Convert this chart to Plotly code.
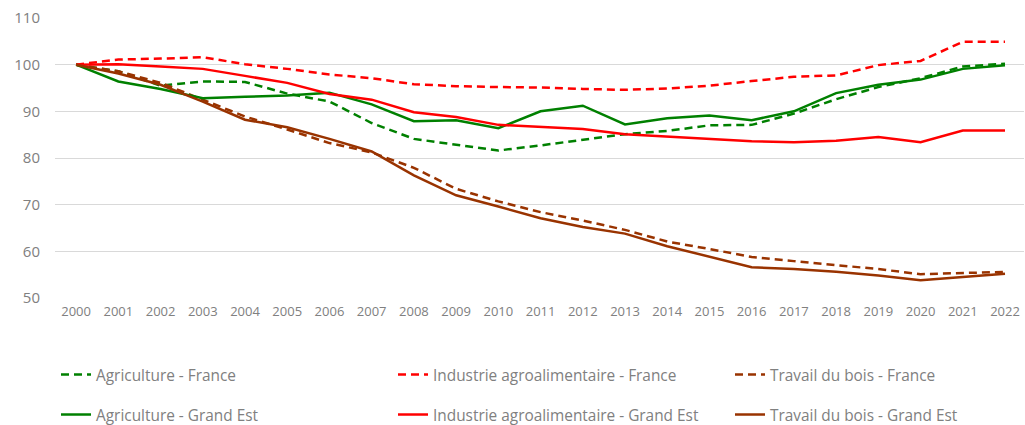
import plotly.graph_objects as go

years = list(range(2000, 2023))

agri_france = [100, 98.6, 95.5, 96.4, 96.3, 93.8, 92.1, 87.5, 84.1, 82.9, 81.6, 82.7, 83.9, 85.1, 85.8,
               87.0, 87.1, 89.5, 92.6, 95.2, 97.1, 99.6, 100.2]
iaa_france = [100, 101.1, 101.3, 101.6, 100.1, 99.1, 97.9, 97.1, 95.8, 95.4, 95.2, 95.1, 94.8, 94.6, 94.9,
              95.5, 96.5, 97.4, 97.7, 99.9, 100.8, 104.9, 104.9]
bois_france = [100, 98.6, 96.1, 92.5, 88.9, 86.1, 83.2, 81.2, 77.9, 73.4, 70.7, 68.4, 66.6, 64.6, 62.1,
               60.5, 58.8, 57.9, 57.0, 56.2, 55.1, 55.4, 55.6]
agri_ge = [100, 96.4, 94.8, 92.8, 93.1, 93.4, 94.0, 91.5, 87.9, 88.1, 86.4, 90.0, 91.2, 87.2, 88.5,
           89.1, 88.1, 90.0, 93.9, 95.7, 96.8, 99.1, 99.9]
iaa_ge = [100, 100.1, 99.6, 99.1, 97.6, 96.1, 93.7, 92.5, 89.8, 88.8, 87.1, 86.6, 86.2, 85.1, 84.6,
          84.2, 83.6, 83.4, 83.7, 84.5, 83.4, 85.9, 85.9]
bois_ge = [100, 98.1, 95.7, 92.1, 88.2, 86.6, 84.1, 81.4, 76.3, 72.0, 69.6, 67.1, 65.2, 63.8, 61.1,
           58.8, 56.6, 56.2, 55.6, 54.8, 53.8, 54.5, 55.2]

series = [
    ("Agriculture - France", agri_france, "#008000", "8px,5px"),
    ("Industrie agroalimentaire - France", iaa_france, "#ff0000", "8px,5px"),
    ("Travail du bois - France", bois_france, "#993300", "8px,5px"),
    ("Agriculture - Grand Est", agri_ge, "#008000", "solid"),
    ("Industrie agroalimentaire - Grand Est", iaa_ge, "#ff0000", "solid"),
    ("Travail du bois - Grand Est", bois_ge, "#993300", "solid"),
]

legend_font = dict(family="Open Sans, sans-serif", size=15.4, color="#808080")
col_x = [56, 393, 730]
row_y = [375, 415]

fig = go.Figure()
legends = {}
for i, (name, vals, color, dash) in enumerate(series):
    key = "legend" if i == 0 else f"legend{i + 1}"
    fig.add_trace(go.Scatter(x=years, y=vals, mode="lines", name=name,
                             line=dict(color=color, width=2.5, dash=dash),
                             legend=key))
    legends[key] = dict(orientation="h", xref="container", yref="container",
                        xanchor="left", yanchor="middle",
                        x=col_x[i % 3] / 1025, y=(425 - row_y[i // 3]) / 425,
                        font=legend_font, bgcolor="rgba(0,0,0,0)", itemwidth=30)

fig.update_layout(
    width=1025, height=425,
    margin=dict(l=55, r=1, t=18, b=127),
    plot_bgcolor="white", paper_bgcolor="white",
    font=dict(family="Open Sans, sans-serif", color="#7f7f7f"),
    xaxis=dict(tickmode="array", tickvals=years, ticktext=[str(y) for y in years],
               range=[1999.5, 2022.45], showgrid=False, zeroline=False, showline=False,
               tickfont=dict(size=13, color="#808080"), ticks="", ticklabelstandoff=4,
               automargin=False),
    yaxis=dict(range=[50, 110], tickvals=[50, 60, 70, 80, 90, 100, 110], showgrid=True,
               gridcolor="#d9d9d9", gridwidth=1, zeroline=False, showline=False,
               tickfont=dict(size=15, color="#808080"), ticks="", ticklabelstandoff=14,
               automargin=False),
    showlegend=True,
    **legends,
)

fig.write_html("out.html", config={"displayModeBar": False},
               post_script="document.body.style.margin='0';document.body.style.overflow='hidden';")
